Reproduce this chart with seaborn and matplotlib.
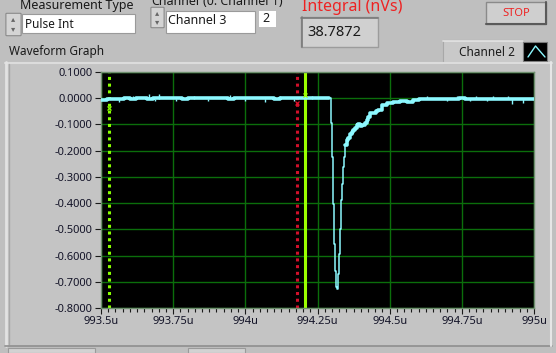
import numpy as np
import pandas as pd
import matplotlib
matplotlib.use("Agg")
import matplotlib.pyplot as plt
import seaborn as sns
from matplotlib.patches import Rectangle, FancyBboxPatch
from matplotlib.lines import Line2D
from matplotlib.ticker import MultipleLocator, FuncFormatter

# ---------------- data (time in microseconds, amplitude in V) ----------------
pre_t = [993.50, 993.52, 993.54, 993.56, 993.58, 993.60, 993.62, 993.64, 993.66, 993.68,
         993.70, 993.72, 993.74, 993.76, 993.78, 993.80, 993.82, 993.84, 993.86, 993.88,
         993.90, 993.92, 993.94, 993.96, 993.98, 994.00, 994.02, 994.04, 994.06, 994.08,
         994.10, 994.12, 994.14, 994.16, 994.18, 994.20, 994.22, 994.24, 994.26, 994.28,
         994.291]
pre_v = [-0.006, -0.004, -0.003, -0.002, -0.001, -0.002, 0.000, -0.001, -0.002, -0.001,
         0.000, -0.001, 0.000, -0.001, -0.002, -0.001, 0.000, 0.001, 0.000, -0.001,
         -0.001, 0.000, -0.002, -0.001, 0.000, -0.001, 0.000, 0.001, 0.000, -0.001,
         -0.002, -0.001, 0.000, -0.001, 0.000, 0.001, -0.001, 0.000, -0.001, 0.000,
         0.000]

pulse_t = [994.291, 994.296, 994.299, 994.303, 994.306, 994.310, 994.313, 994.316,
           994.321, 994.324, 994.328, 994.331, 994.335, 994.338, 994.342, 994.346]
pulse_v = [0.000, -0.094, -0.224, -0.403, -0.556, -0.658, -0.720, -0.728,
           -0.671, -0.594, -0.499, -0.390, -0.326, -0.263, -0.224, -0.180]

tail_t = [994.346, 994.351, 994.356, 994.362, 994.368, 994.374, 994.380, 994.386, 994.392,
          994.397, 994.403, 994.409, 994.415, 994.420, 994.426, 994.432, 994.443, 994.452,
          994.461, 994.472, 994.490, 994.512, 994.536, 994.559, 994.582, 994.60, 994.62,
          994.64, 994.66, 994.68, 994.70, 994.72, 994.74, 994.76, 994.78, 994.80, 994.82,
          994.84, 994.86, 994.88, 994.90, 994.92, 994.94, 994.96, 994.98, 995.00]
tail_v = [-0.180, -0.161, -0.150, -0.137, -0.128, -0.120, -0.112, -0.103, -0.100,
          -0.107, -0.104, -0.103, -0.094, -0.084, -0.070, -0.058, -0.058, -0.050,
          -0.046, -0.026, -0.020, -0.016, -0.010, -0.016, -0.006, -0.004, -0.003,
          -0.004, -0.002, -0.003, -0.004, -0.002, 0.000, -0.003, -0.004, -0.002,
          -0.003, -0.004, -0.002, -0.003, -0.002, -0.004, -0.003, -0.002, -0.003, -0.002]

# noise spikes on the baseline (time, tip value)
spike_t = [993.562, 993.610, 993.667, 993.687, 993.702, 993.760, 993.822, 993.870,
           993.947, 993.999, 994.068, 994.120, 994.170, 994.230, 994.628, 994.700,
           994.732, 994.778, 994.800, 994.836, 994.858, 994.910, 994.923, 994.962]
spike_v = [-0.016, 0.010, 0.016, -0.012, 0.015, -0.010, 0.010, -0.010,
           0.014, -0.012, -0.016, 0.010, -0.010, 0.010, 0.009, -0.010,
           0.008, -0.012, 0.010, -0.012, 0.009, 0.010, -0.022, -0.020]

# cursors
cursor_t = [993.528, 994.179, 994.207]
cursor_v = [-0.038, -0.018, 0.012]

x_ticks = [993.5, 993.75, 994.0, 994.25, 994.5, 994.75, 995.0]
x_labels = ["993.5u", "993.75u", "994u", "994.25u", "994.5u", "994.75u", "995u"]
y_ticks = [0.1, 0.0, -0.1, -0.2, -0.3, -0.4, -0.5, -0.6, -0.7, -0.8]

# ---------------- figure ----------------
sns.set_theme(style="dark")
plt.rcParams['font.family'] = ['Noto Sans', 'DejaVu Sans']

W, H = 556, 353
fig = plt.figure(figsize=(W / 100, H / 100), dpi=100)
fig.patch.set_facecolor('#bfbfbf')

def fx(px):
    return px / W

def fy(py):
    return 1 - py / H

def rect(x0, y0, x1, y1, fc, ec='none', lw=1.0, z=0):
    r = Rectangle((fx(x0), fy(y1)), (x1 - x0) / W, (y1 - y0) / H,
                  transform=fig.transFigure, facecolor=fc, edgecolor=ec,
                  linewidth=lw, zorder=z)
    fig.add_artist(r)
    return r

def line(xs, ys, color, lw=1.0, z=1):
    fig.add_artist(Line2D([fx(x) for x in xs], [fy(y) for y in ys],
                          transform=fig.transFigure, color=color, lw=lw, zorder=z))

TXT = '#1a1a1a'

# graph frame panel
rect(5, 62, 552, 346, '#c4c4c4')
line([5, 552], [62.5, 62.5], '#dcdcdc', 1.5)
line([6, 6], [62, 346], '#e2e2e2', 2)
line([9, 9], [64, 344], '#a8a8a8', 1)
line([5, 552], [345.5, 345.5], '#8e8e8e', 1.2)
line([551, 551], [62, 346], '#e6e6e6', 1.5)
# bits of controls below (cut off)
rect(8, 348, 95, 353, '#d2d2d2', '#9a9a9a', 0.8)
rect(188, 348, 245, 353, '#d2d2d2', '#9a9a9a', 0.8)

# top controls
fig.text(fx(20), fy(9), "Measurement Type", fontsize=9, color=TXT, va='baseline')
# spinner 1
fig.add_artist(FancyBboxPatch((fx(7), fy(35)), 13 / W, 21 / H, boxstyle="round,pad=0.002",
                              transform=fig.transFigure, fc='#d4d4d4', ec='#8a8a8a', lw=0.8))
fig.text(fx(13.5), fy(19), "\u25b4", fontsize=6, color='#666666', ha='center', va='center')
fig.text(fx(13.5), fy(29), "\u25be", fontsize=6, color='#666666', ha='center', va='center')
rect(22, 14, 135, 33, 'white', '#9a9a9a', 0.8)
fig.text(fx(25), fy(24), "Pulse Int", fontsize=8.5, color=TXT, va='center')

fig.text(fx(151), fy(5), "Channel", fontsize=9, color=TXT, va='baseline', fontweight='bold')
fig.text(fx(203), fy(5), "(0: Channel 1)", fontsize=9, color=TXT, va='baseline')
fig.add_artist(FancyBboxPatch((fx(152), fy(27)), 11 / W, 19 / H, boxstyle="round,pad=0.002",
                              transform=fig.transFigure, fc='#d4d4d4', ec='#8a8a8a', lw=0.8))
fig.text(fx(157.5), fy(13), "\u25b4", fontsize=6, color='#666666', ha='center', va='center')
fig.text(fx(157.5), fy(22), "\u25be", fontsize=6, color='#666666', ha='center', va='center')
rect(166, 11, 255, 33, 'white', '#9a9a9a', 0.8)
fig.text(fx(168), fy(20), "Channel 3", fontsize=9, color=TXT, va='center')
rect(259, 11, 276, 27, 'white', 'none')
fig.text(fx(262), fy(19), "2", fontsize=9, color=TXT, va='center')

fig.text(fx(302), fy(11), "Integral (nVs)", fontsize=11.5, color='#ee2222', va='baseline')
rect(301, 17, 378, 47, '#d0d0d0', '#9c9c9c', 1.0)
line([301, 378], [17.5, 17.5], '#7a7a7a', 1.2)
line([301.5, 301.5], [17, 47], '#7a7a7a', 1.2)
fig.text(fx(307), fy(33), "38.7872", fontsize=10.5, color=TXT, va='center')

# STOP button
rect(486, 2, 546, 24, '#cfcfcf', '#8a8a8a', 1.0)
line([486, 546], [23.5, 23.5], '#5a5a5a', 1.5)
line([545.5, 545.5], [2, 24], '#5a5a5a', 1.5)
fig.text(fx(516), fy(13), "STOP", fontsize=8, color='#ee2222', ha='center', va='center')

fig.text(fx(9), fy(55), "Waveform Graph", fontsize=8.5, color=TXT, va='baseline')

# plot legend
rect(443, 40, 523, 63, '#c9c9c9', '#a8a8a8', 0.8)
line([443, 523], [40.5, 40.5], '#e4e4e4', 1.2)
fig.text(fx(459), fy(52), "Channel 2", fontsize=8.5, color=TXT, va='center')
rect(523, 42, 547, 61, 'black', '#7a7a7a', 0.8)
line([528, 535.5, 545], [57, 46, 57], '#8cf8ff', 1.0, z=2)

# ---------------- plot area ----------------
ax = fig.add_axes([fx(101), fy(308), 433 / W, 236 / H])
ax.set_facecolor('black')

TRACE = '#8cf8ff'
pre = pd.DataFrame({'t': pre_t, 'v': pre_v})
pul = pd.DataFrame({'t': pulse_t, 'v': pulse_v})
tal = pd.DataFrame({'t': tail_t, 'v': tail_v})

# cursors (behind trace)
ax.axvline(cursor_t[0], color='#88ff00', lw=2.2, ls=(0, (1, 1.2)), zorder=2)
ax.axvline(cursor_t[1], color='#d0102a', lw=2.2, ls=(0, (1, 1.2)), zorder=2)
ax.axvline(cursor_t[2], color='#9cff00', lw=2.2, zorder=2)

ax.vlines(spike_t, -0.002, spike_v, color=TRACE, lw=1.0, zorder=3)
sns.lineplot(data=pre, x='t', y='v', ax=ax, color=TRACE, lw=2.6, drawstyle='steps-post',
             estimator=None, sort=False, zorder=3)
sns.lineplot(data=pul, x='t', y='v', ax=ax, color=TRACE, lw=1.1, drawstyle='steps-post',
             estimator=None, sort=False, zorder=3)
sns.lineplot(data=tal, x='t', y='v', ax=ax, color=TRACE, lw=2.6, drawstyle='steps-post',
             estimator=None, sort=False, zorder=3)

cols = ['#88ff00', '#e0102a', '#9cff00']
for t, v, c in zip(cursor_t, cursor_v, cols):
    ax.plot([t], [v], marker='x', color=c, ms=3.2, mew=0.9, zorder=4)

ax.set_xlim(993.5, 995.0)
ax.set_ylim(-0.8, 0.1)
ax.set_xticks(x_ticks)
ax.set_xticklabels(x_labels)
ax.xaxis.set_minor_locator(MultipleLocator(0.025))
ax.set_yticks(y_ticks)
ax.yaxis.set_major_formatter(FuncFormatter(lambda v, p: f"{v:.4f}"))
ax.grid(True, which='major', color='#0b6e0b', lw=1.0)
ax.set_axisbelow(True)
for gl in ax.get_xgridlines() + ax.get_ygridlines():
    gl.set_zorder(1)
ax.set_xlabel('')
ax.set_ylabel('')
ax.tick_params(axis='both', which='major', labelsize=8, colors=TXT, direction='out',
               length=4, width=0.8, pad=2, bottom=True, left=True)
ax.tick_params(axis='x', which='minor', direction='out', length=3, width=0.8,
               colors=TXT, bottom=True)
for lab in ax.get_xticklabels() + ax.get_yticklabels():
    lab.set_color('#141428')
for s in ax.spines.values():
    s.set_color('#6f906f')
    s.set_linewidth(1.0)
    s.set_visible(True)

fig.savefig('out.png', dpi=100, facecolor=fig.get_facecolor())
